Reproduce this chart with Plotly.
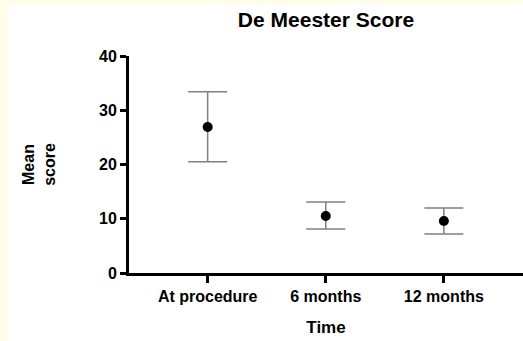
import plotly.graph_objects as go

categories = ["At procedure", "6 months", "12 months"]
means = [26.9, 10.5, 9.6]
upper = [33.4, 13.1, 12.0]
lower = [20.5, 8.1, 7.2]
y_ticks = [0, 10, 20, 30, 40]

err_plus = [u - m for u, m in zip(upper, means)]
err_minus = [m - l for m, l in zip(means, lower)]

W, H = 523, 341
ml, mr, mt, mb = 129, 0, 56, 68
pw, ph = W - ml - mr, H - mt - mb

fig = go.Figure()
fig.add_trace(go.Scatter(
    x=[0, 1, 2], y=means, mode="markers",
    marker=dict(color="black", size=10),
    error_y=dict(type="data", symmetric=False, array=err_plus, arrayminus=err_minus,
                 color="#808080", thickness=1.5, width=19.5),
    showlegend=False, cliponaxis=False,
))

fig.update_layout(
    width=W, height=H,
    margin=dict(l=ml, r=mr, t=mt, b=mb, autoexpand=False),
    paper_bgcolor="#FFFDE8", plot_bgcolor="white",
    font=dict(family="Liberation Sans", color="black"),
    title=dict(text="<b>De Meester Score</b>", x=326 / W, xanchor="center",
               y=1 - 20 / H, yanchor="middle", font=dict(size=21, color="black")),
    xaxis=dict(range=[-0.666, 2.67], tickvals=[0, 1, 2],
               ticktext=["<b>%s</b>" % c for c in categories],
               showline=True, linecolor="black", linewidth=3,
               ticks="outside", ticklen=7, tickwidth=3, tickcolor="black",
               showgrid=False, zeroline=False, tickfont=dict(size=16),
               title=dict(text="<b>Time</b>", font=dict(size=17), standoff=17)),
    yaxis=dict(range=[0, 40], tickvals=y_ticks, ticktext=["<b>%d</b>" % t for t in y_ticks],
               showline=True, linecolor="black", linewidth=3,
               ticks="outside", ticklen=6, tickwidth=3, tickcolor="black",
               showgrid=False, zeroline=False, tickfont=dict(size=16),
               title=dict(text="<b>Mean<br>score</b>", font=dict(size=16), standoff=40)),
    shapes=[dict(type="rect", xref="paper", yref="paper", layer="below",
                 x0=(8 - ml) / pw, x1=1 + 10 / pw, y0=-mb / ph - 0.1, y1=1 + (mt - 4) / ph,
                 fillcolor="white", line=dict(width=0))],
)

fig.write_html("out.html", config={"displayModeBar": False},
               post_script="document.body.style.margin='0';document.body.style.overflow='hidden';")
